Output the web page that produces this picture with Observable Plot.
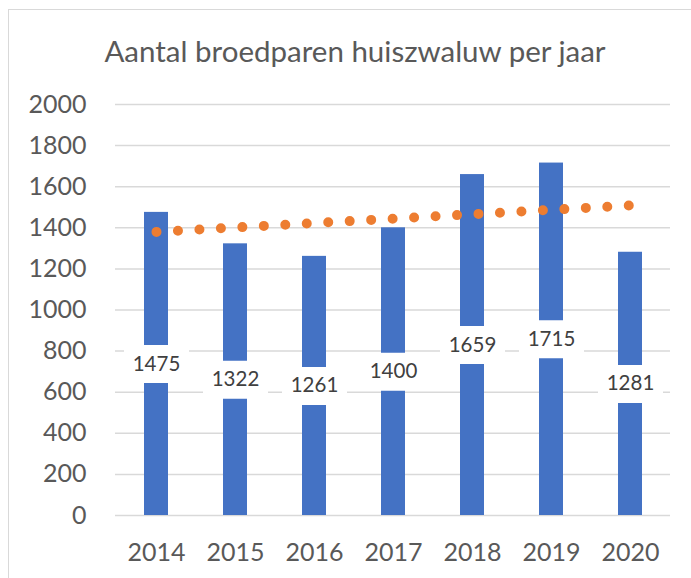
<!DOCTYPE html>
<html>
<head>
<meta charset="utf-8">
<script src="https://cdn.jsdelivr.net/npm/d3@7"></script>
<script src="https://cdn.jsdelivr.net/npm/@observablehq/plot@0.6"></script>
<style>
  html, body { margin: 0; padding: 0; background: #fff; overflow: hidden; }
  body { width: 691px; height: 578px; position: relative; font-family: Lato, "Open Sans", sans-serif; }
  #frame { position: absolute; left: 8px; top: 9px; width: 720px; height: 620px; border: 1px solid #d9d9d9; box-sizing: border-box; }
  #chart { position: relative; }
  #title { height: 80px; box-sizing: border-box; padding-top: 36px; line-height: 1; font-size: 29.5px; color: #595959; text-align: center; width: 710px; white-space: nowrap; }
</style>
</head>
<body>
<div id="frame"></div>
<div id="chart">
  <div id="title">Aantal broedparen huiszwaluw per jaar</div>
</div>
<script>
const years = ["2014", "2015", "2016", "2017", "2018", "2019", "2020"];
const counts = [1475, 1322, 1261, 1400, 1659, 1715, 1281];
const yTicks = [0, 200, 400, 600, 800, 1000, 1200, 1400, 1600, 1800, 2000];
const trendYears = ["2014", "2020"];
const trendValues = [1380, 1509];

const data = years.map((y, i) => ({year: y, value: counts[i]}));
const trend = trendYears.map((y, i) => ({year: y, value: trendValues[i]}));

const boxSymbol = { draw(ctx) { ctx.moveTo(-32.5, -19); ctx.lineTo(32.5, -19); ctx.lineTo(32.5, 19); ctx.lineTo(-32.5, 19); ctx.closePath(); } };

const chart = Plot.plot({
  width: 691,
  height: 498,
  marginTop: 24,
  marginBottom: 63,
  marginLeft: 115,
  marginRight: 21,
  style: { fontFamily: "Lato, 'Open Sans', sans-serif", fontSize: "25px", color: "#595959", background: "transparent", overflow: "visible" },
  x: { domain: years, paddingInner: 0.7, paddingOuter: 0.35, tickSize: 0, tickPadding: 28, label: null },
  y: { domain: [0, 2000], ticks: yTicks, tickSize: 0, tickPadding: 29, tickFormat: d => String(d), label: null },
  marks: [
    Plot.ruleY(yTicks, { stroke: "#d9d9d9", strokeWidth: 1.5 }),
    Plot.barY(data, { x: "year", y: "value", fill: "#4472C4" }),
    Plot.line(trend, { x: "year", y: "value", stroke: "#ED7D31", strokeWidth: 10, strokeLinecap: "round", strokeDasharray: "0 21.5" }),
    Plot.dot(data, { x: "year", y: d => d.value / 2, symbol: boxSymbol, r: 5, fill: "white", stroke: "none" }),
    Plot.text(data, { x: "year", y: d => d.value / 2, text: d => String(d.value), fill: "#404040", fontSize: 20.5 })
  ]
});
document.getElementById("chart").appendChild(chart);
</script>
</body>
</html>
